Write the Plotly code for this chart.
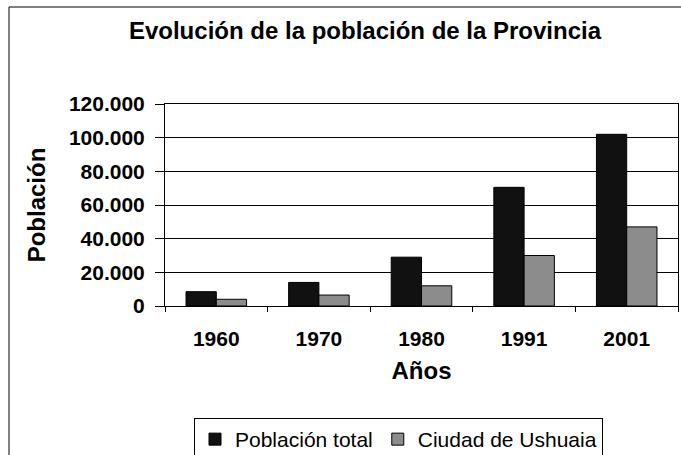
import plotly.graph_objects as go

years = ["1960", "1970", "1980", "1991", "2001"]
poblacion_total = [8500, 14000, 29000, 70500, 102000]
ciudad_ushuaia = [4000, 6500, 12000, 30000, 47000]
y_ticks = [0, 20000, 40000, 60000, 80000, 100000, 120000]
y_tick_labels = ["0", "20.000", "40.000", "60.000", "80.000", "100.000", "120.000"]

W, H = 681, 455
L, R, T, B = 165, 3, 104, 149
pw, ph = W - L - R, H - T - B
FONT = "Liberation Sans, Arial, sans-serif"


def px(x):
    return (x - L) / pw


def py(y):
    return (H - B - y) / ph


fig = go.Figure()
fig.add_trace(go.Bar(x=years, y=poblacion_total, name="Población total",
                     marker=dict(color="#111111", line=dict(color="#000000", width=1))))
fig.add_trace(go.Bar(x=years, y=ciudad_ushuaia, name="Ciudad de Ushuaia",
                     marker=dict(color="#8c8c8c", line=dict(color="#000000", width=1))))

fig.update_layout(
    width=W, height=H,
    margin=dict(l=L, r=R, t=T, b=B, autoexpand=False),
    paper_bgcolor="white", plot_bgcolor="white",
    barmode="group", bargap=0.41, bargroupgap=0,
    font=dict(family=FONT, color="black"),
    title=dict(text="<b>Evolución de la población de la Provincia</b>",
               x=365 / W, xanchor="center", xref="container",
               y=1 - 31 / H, yanchor="middle", yref="container",
               font=dict(size=24)),
    legend=dict(orientation="h", xref="container", yref="container",
                x=194 / W, y=1 - 418 / H, xanchor="left", yanchor="top",
                bordercolor="black", borderwidth=1, bgcolor="white",
                font=dict(size=21), itemwidth=30, tracegroupgap=0),
    showlegend=True,
)
fig.update_xaxes(
    type="category", showline=True, linecolor="black", linewidth=1, mirror=True,
    ticks="outside", tickson="boundaries", ticklen=5, tickcolor="black",
    tickfont=dict(size=21), ticklabelstandoff=14,
    tickvals=years, ticktext=["<b>%s</b>" % y for y in years],
    title=dict(text="<b>Años</b>", font=dict(size=24), standoff=12),
    showgrid=False,
)
fig.update_yaxes(
    range=[0, 120000], tickvals=y_ticks, ticktext=["<b>%s</b>" % t for t in y_tick_labels],
    showline=True, linecolor="black", linewidth=1, mirror=True,
    ticks="outside", ticklen=9, tickcolor="black", ticklabelstandoff=6,
    tickfont=dict(size=21), showgrid=True, gridcolor="black", gridwidth=1,
    title=dict(text="<b>Población</b>", font=dict(size=24), standoff=16),
    zeroline=False,
)
# outer chart frame
fig.add_shape(type="rect", xref="paper", yref="paper",
              x0=px(9), x1=px(W + 10), y0=py(H + 10), y1=py(7),
              line=dict(color="black", width=1), fillcolor="rgba(0,0,0,0)", layer="below")

fig.write_html("out.html", config={"displayModeBar": False},
               post_script="document.body.style.margin='0';document.body.style.overflow='hidden';")
